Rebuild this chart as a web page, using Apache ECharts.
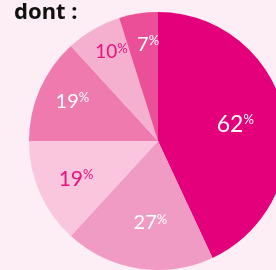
<!DOCTYPE html>
<html>
<head>
<meta charset="utf-8">
<script src="https://cdn.jsdelivr.net/npm/echarts@6/dist/echarts.min.js"></script>
<style>
  html, body { margin: 0; padding: 0; background: #fdedf5; }
  #chart { width: 276px; height: 270px; }
</style>
</head>
<body>
<div id="chart"></div>
<script>
// slices, clockwise from 12 o'clock
const categories = ['a', 'b', 'c', 'd', 'e', 'f']
const values = [62, 27, 19, 19, 10, 7]
const pctLabels = ['62', '27', '19', '19', '10', '7']

const sliceColors = ['#e4007b', '#f09bc4', '#f9c6de', '#ee7aae', '#f5afcf', '#ea4f97']
const labelColors = ['#fff', '#fff', '#e6127f', '#fff', '#e6127f', '#fff']
const labelDist = [71, 80, 92, 96, 100, 95] // distance of each label from centre
const labelSize = [23, 20, 21, 20, 19, 20]

const center = [158, 141]
const fontFamily = 'Lato, "Noto Sans", sans-serif'

const chart = echarts.init(document.getElementById('chart'))

function richFor(i) {
  return {
    s: { width: 10 },
    n: { fontSize: labelSize[i], lineHeight: labelSize[i], color: labelColors[i], fontFamily: fontFamily },
    p: { fontSize: 13, lineHeight: 13, color: labelColors[i], fontFamily: fontFamily, verticalAlign: 'top' }
  }
}

const series = [{
  type: 'pie',
  center: center,
  radius: [0, 129],
  startAngle: 90,
  silent: true,
  animation: false,
  label: { show: false },
  labelLine: { show: false },
  data: values.map((v, i) => ({
    name: categories[i],
    value: v,
    itemStyle: { color: sliceColors[i] }
  }))
}]

// one transparent pie per label, so each label sits at its own distance
values.forEach((_, k) => {
  series.push({
    type: 'pie',
    center: center,
    radius: [0, labelDist[k] * 2],
    startAngle: 90,
    silent: true,
    animation: false,
    itemStyle: { color: 'transparent' },
    labelLine: { show: false },
    data: values.map((v, i) => ({
      name: categories[i],
      value: v,
      label: {
        show: i === k,
        position: 'inside',
        formatter: '{s| }{n|' + pctLabels[i] + '}{p|%}',
        rich: richFor(i)
      }
    }))
  })
})

chart.setOption({
  backgroundColor: '#fdedf5',
  title: {
    text: 'dont :',
    left: 9,
    top: -3,
    textStyle: { fontFamily: '"Noto Sans", sans-serif', fontWeight: 'bold', fontSize: 22, color: '#111' }
  },
  series: series
})
</script>
</body>
</html>
